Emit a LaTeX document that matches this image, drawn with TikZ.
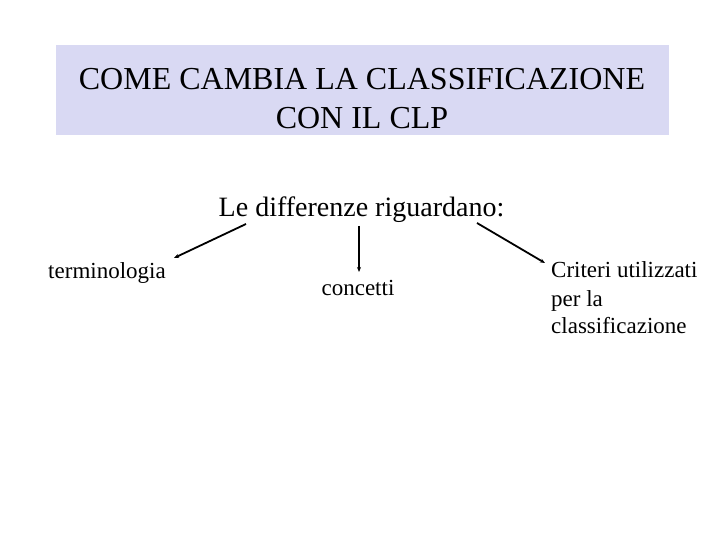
\documentclass[tikz,border=0pt]{standalone}
\usepackage{fontspec}
\setmainfont{Liberation Serif}
\usetikzlibrary{arrows.meta}
\definecolor{titlebg}{HTML}{D9D9F3}
\begin{document}
\begin{tikzpicture}[x=1pt,y=-1pt,
  lbl/.style={inner sep=0pt,anchor=base,font=\fontsize{23}{28}\selectfont},
  conn/.style={line width=1.8pt,-{Stealth[length=5pt,width=4pt]}}]
\useasboundingbox (0,0) rectangle (720,540);
\fill[titlebg] (56,45) rectangle (669,135);
\node[inner sep=0pt,anchor=base,font=\fontsize{32}{38}\selectfont] (t1) at (362,90) {COME CAMBIA LA CLASSIFICAZIONE};
\node[inner sep=0pt,anchor=base,font=\fontsize{32}{38}\selectfont] (t2) at (362,129) {CON IL CLP};
\node[inner sep=0pt,anchor=base,font=\fontsize{28}{34}\selectfont] (sub) at (361.5,216) {Le differenze riguardano:};
\node[lbl] (term) at (107,278) {terminologia};
\node[lbl] (conc) at (358,295) {concetti};
\node[lbl,anchor=base west] (crit1) at (551,277) {Criteri utilizzati};
\node[lbl,anchor=base west] (crit2) at (551,306) {per la};
\node[lbl,anchor=base west] (crit3) at (551,333) {classificazione};
\coordinate (s1) at (246,224);
\coordinate (e1) at (174,258);
\coordinate (s2) at (359,226);
\coordinate (e2) at (359,272);
\coordinate (s3) at (477,223);
\coordinate (e3) at (545,263);
\draw[conn] (s1) -- (e1);
\draw[conn] (s2) -- (e2);
\draw[conn] (s3) -- (e3);
\end{tikzpicture}
\end{document}
